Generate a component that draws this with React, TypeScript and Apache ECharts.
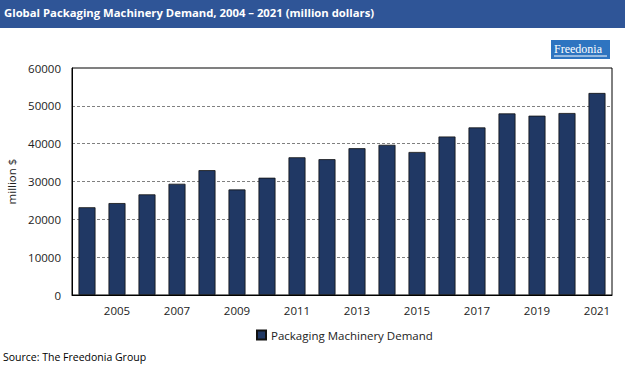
import React, { useEffect, useRef } from "react";
import * as echarts from "echarts";

const years = ["2004","2005","2006","2007","2008","2009","2010","2011","2012","2013","2014","2015","2016","2017","2018","2019","2020","2021"];
const demand = [23200,24300,26600,29400,33000,27900,31000,36400,35900,38800,39700,37800,41900,44300,48000,47400,48100,53400];
const yTicks = [0,10000,20000,30000,40000,50000,60000];
const seriesName = "Packaging Machinery Demand";
const titleText = "Global Packaging Machinery Demand, 2004 – 2021 (million dollars)";
const sourceText = "Source: The Freedonia Group";

export default function App() {
  const ref = useRef<HTMLDivElement>(null);
  useEffect(() => {
    const chart = echarts.init(ref.current!, null, { renderer: "svg" });
    const font = "'Open Sans', 'Liberation Sans', sans-serif";
    chart.setOption({
      animation: false,
      backgroundColor: "#ffffff",
      textStyle: { fontFamily: font },
      graphic: [
        { type: "rect", left: 0, top: 0, shape: { width: 625, height: 28 }, style: { fill: "#2F5597" } },
        { type: "text", left: 4, top: 7, style: { text: titleText, fill: "#ffffff", font: "bold 11.3px " + font } },
        { type: "rect", left: 551, top: 40, shape: { width: 59, height: 19 }, style: { fill: "#2E74C0" } },
        { type: "text", left: 554, top: 43, style: { text: "Freedonia", fill: "#ffffff", font: "12px 'Liberation Serif', 'DejaVu Serif', serif" } },
        { type: "line", shape: { x1: 554, y1: 56, x2: 607, y2: 56 }, style: { stroke: "#ffffff", lineWidth: 1 } },
        { type: "text", left: 3, top: 351, style: { text: sourceText, fill: "#000000", font: "10.5px " + font } },
      ],
      legend: {
        data: [seriesName],
        left: 251,
        top: 324,
        itemWidth: 9,
        itemHeight: 9,
        itemGap: 4,
        icon: "rect",
        textStyle: { fontSize: 11.5, color: "#222", fontFamily: font },
      },
      grid: {
        left: 72, right: 13, top: 68, bottom: 79,
        outerBoundsMode: "none",
        containLabel: false,
        show: true, borderColor: "#000", borderWidth: 1, backgroundColor: "transparent",
      },
      xAxis: {
        type: "category",
        data: years,
        axisLine: { show: true, lineStyle: { color: "#000", width: 1 } },
        axisTick: { show: false },
        axisLabel: {
          interval: (i: number) => i % 2 === 1,
          color: "#222", fontSize: 11.5, margin: 9, fontFamily: font,
        },
      },
      yAxis: {
        type: "value",
        min: yTicks[0],
        max: yTicks[yTicks.length - 1],
        interval: 10000,
        name: "million $",
        nameLocation: "middle",
        nameGap: 45,
        nameTextStyle: { fontSize: 11.5, color: "#222", fontFamily: font },
        axisLine: { show: true, lineStyle: { color: "#000" } },
        axisTick: { show: false },
        axisLabel: { color: "#222", fontSize: 11.5, margin: 11, fontFamily: font, formatter: (v: number) => String(v) },
        splitLine: { show: true, lineStyle: { color: "#808080", type: [3, 2], width: 1 } },
      },
      series: [
        {
          name: seriesName,
          type: "bar",
          data: demand,
          barWidth: 17,
          itemStyle: { color: "#203864", borderColor: "#111", borderWidth: 0.8 },
        },
      ],
    });
    return () => chart.dispose();
  }, []);
  return (
    <div
      ref={ref}
      style={{ position: "fixed", left: 0, top: 0, width: 625, height: 374 }}
    />
  );
}
